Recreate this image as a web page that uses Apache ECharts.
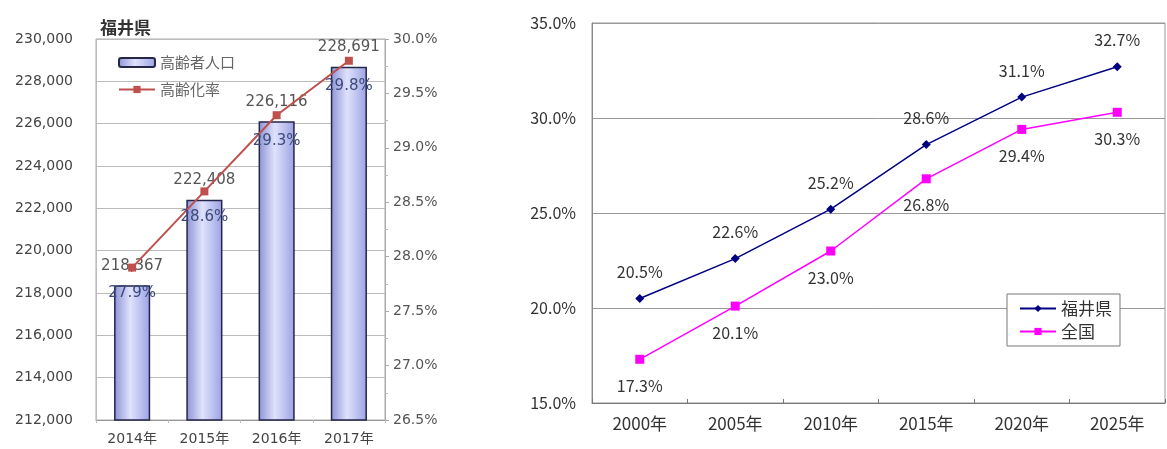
<!DOCTYPE html>
<html>
<head>
<meta charset="utf-8">
<script src="https://cdn.jsdelivr.net/npm/echarts@6/dist/echarts.min.js"></script>
<style>
  html, body { margin: 0; padding: 0; background: #fff; }
  #main { width: 1167px; height: 449px; }
</style>
</head>
<body>
<div id="main"></div>
<script>
// left chart: 福井県 高齢者人口 / 高齢化率
const leftYears = ['2014年', '2015年', '2016年', '2017年']
const elderlyPop = [218367, 222408, 226116, 228691]
const agingRate = [27.9, 28.6, 29.3, 29.8]

// right chart: 高齢化率 推移
const rightYears = ['2000年', '2005年', '2010年', '2015年', '2020年', '2025年']
const fukuiRate = [20.5, 22.6, 25.2, 28.6, 31.1, 32.7]
const nationalRate = [17.3, 20.1, 23.0, 26.8, 29.4, 30.3]

const sansFont = 'DejaVu Sans, Noto Sans CJK JP, sans-serif'
const jpFont = 'Noto Sans CJK JP, sans-serif'

const chart = echarts.init(document.getElementById('main'))

chart.setOption({
    animation: false,
    title: {
        text: '福井県',
        left: 95,
        top: 14,
        textStyle: { fontSize: 17, fontWeight: 'bold', color: '#333', fontFamily: jpFont }
    },
    legend: [
        {
            orient: 'vertical',
            left: 113,
            top: 50,
            itemWidth: 36,
            itemHeight: 9,
            itemGap: 12,
            textStyle: { fontSize: 15, color: '#666', fontFamily: jpFont },
            data: ['高齢者人口', '高齢化率']
        },
        {
            orient: 'vertical',
            left: 1007,
            top: 294,
            padding: [6, 8, 6, 12],
            itemWidth: 36,
            itemHeight: 9,
            itemGap: 6,
            borderColor: '#777',
            borderWidth: 1,
            backgroundColor: '#fff',
            textStyle: { fontSize: 17, color: '#333', fontFamily: jpFont },
            data: ['福井県', '全国']
        }
    ],
    grid: [
        { left: 96, top: 39, width: 289, height: 381, show: true, borderColor: '#aaa', borderWidth: 1 },
        { left: 592, top: 23, width: 573, height: 380, show: true, borderColor: '#999', borderWidth: 1 }
    ],
    xAxis: [
        {
            type: 'category',
            gridIndex: 0,
            data: leftYears,
            axisLine: { lineStyle: { color: '#999' } },
            axisTick: { show: true, length: 3, lineStyle: { color: '#bbb' } },
            axisLabel: { fontSize: 14, color: '#444', margin: 12, fontFamily: sansFont }
        },
        {
            type: 'category',
            gridIndex: 1,
            data: rightYears,
            axisLine: { lineStyle: { color: '#777' } },
            axisTick: { show: true, inside: true, length: 4, lineStyle: { color: '#777' } },
            axisLabel: { fontSize: 17, color: '#333', margin: 12, fontFamily: jpFont }
        }
    ],
    yAxis: [
        {
            type: 'value',
            gridIndex: 0,
            min: 212000,
            max: 230000,
            interval: 2000,
            axisLine: { show: true, lineStyle: { color: '#bbb' } },
            axisTick: { show: false },
            splitLine: { lineStyle: { color: '#bbb' } },
            axisLabel: {
                fontSize: 14, color: '#444', margin: 23, fontFamily: sansFont,
                formatter: v => v.toLocaleString('en-US')
            }
        },
        {
            type: 'value',
            gridIndex: 0,
            position: 'right',
            min: 26.5,
            max: 30,
            interval: 0.5,
            axisLine: { show: true, lineStyle: { color: '#aaa' } },
            axisTick: { show: true, length: 4, lineStyle: { color: '#aaa' } },
            minorTick: { show: true, splitNumber: 2, length: 3, lineStyle: { color: '#bbb' } },
            splitLine: { show: false },
            axisLabel: {
                fontSize: 14, color: '#555', margin: 8, fontFamily: sansFont,
                formatter: v => v.toFixed(1) + '%'
            }
        },
        {
            type: 'value',
            gridIndex: 1,
            min: 15,
            max: 35,
            interval: 5,
            axisLine: { show: true, lineStyle: { color: '#888' } },
            axisTick: { show: false },
            splitLine: { lineStyle: { color: '#999' } },
            axisLabel: {
                fontSize: 16, color: '#333', margin: 16, fontFamily: jpFont,
                formatter: v => v.toFixed(1) + '%'
            }
        }
    ],
    series: [
        {
            name: '高齢者人口',
            type: 'bar',
            xAxisIndex: 0,
            yAxisIndex: 0,
            barWidth: '50%',
            data: elderlyPop,
            itemStyle: {
                color: new echarts.graphic.LinearGradient(0, 0, 1, 0, [
                    { offset: 0, color: '#8c92d6' },
                    { offset: 0.45, color: '#dfe2fb' },
                    { offset: 1, color: '#9ba2e4' }
                ]),
                borderColor: '#24264a',
                borderWidth: 1.5
            },
            label: {
                show: true,
                position: 'top',
                distance: 12,
                fontSize: 15,
                color: '#555',
                fontFamily: sansFont,
                formatter: p => p.value.toLocaleString('en-US')
            },
            z: 2
        },
        {
            name: '高齢化率',
            type: 'line',
            xAxisIndex: 0,
            yAxisIndex: 1,
            data: agingRate,
            symbol: 'rect',
            symbolSize: 8,
            lineStyle: { color: '#c0504d', width: 2 },
            itemStyle: { color: '#c0504d' },
            label: {
                show: true,
                position: 'bottom',
                distance: 14,
                fontSize: 15,
                color: '#3b4a7a',
                fontFamily: sansFont,
                formatter: p => p.value.toFixed(1) + '%'
            },
            z: 3
        },
        {
            name: '福井県',
            type: 'line',
            xAxisIndex: 1,
            yAxisIndex: 2,
            data: fukuiRate,
            symbol: 'diamond',
            symbolSize: 9,
            lineStyle: { color: '#000080', width: 1.5 },
            itemStyle: { color: '#000080' },
            label: {
                show: true,
                position: 'top',
                distance: 14,
                fontSize: 16,
                color: '#333',
                fontFamily: jpFont,
                formatter: p => p.value.toFixed(1) + '%'
            }
        },
        {
            name: '全国',
            type: 'line',
            xAxisIndex: 1,
            yAxisIndex: 2,
            data: nationalRate,
            symbol: 'rect',
            symbolSize: 9,
            lineStyle: { color: '#ff00ff', width: 1.5 },
            itemStyle: { color: '#ff00ff' },
            label: {
                show: true,
                position: 'bottom',
                distance: 14,
                fontSize: 16,
                color: '#333',
                fontFamily: jpFont,
                formatter: p => p.value.toFixed(1) + '%'
            }
        }
    ]
})
</script>
</body>
</html>
